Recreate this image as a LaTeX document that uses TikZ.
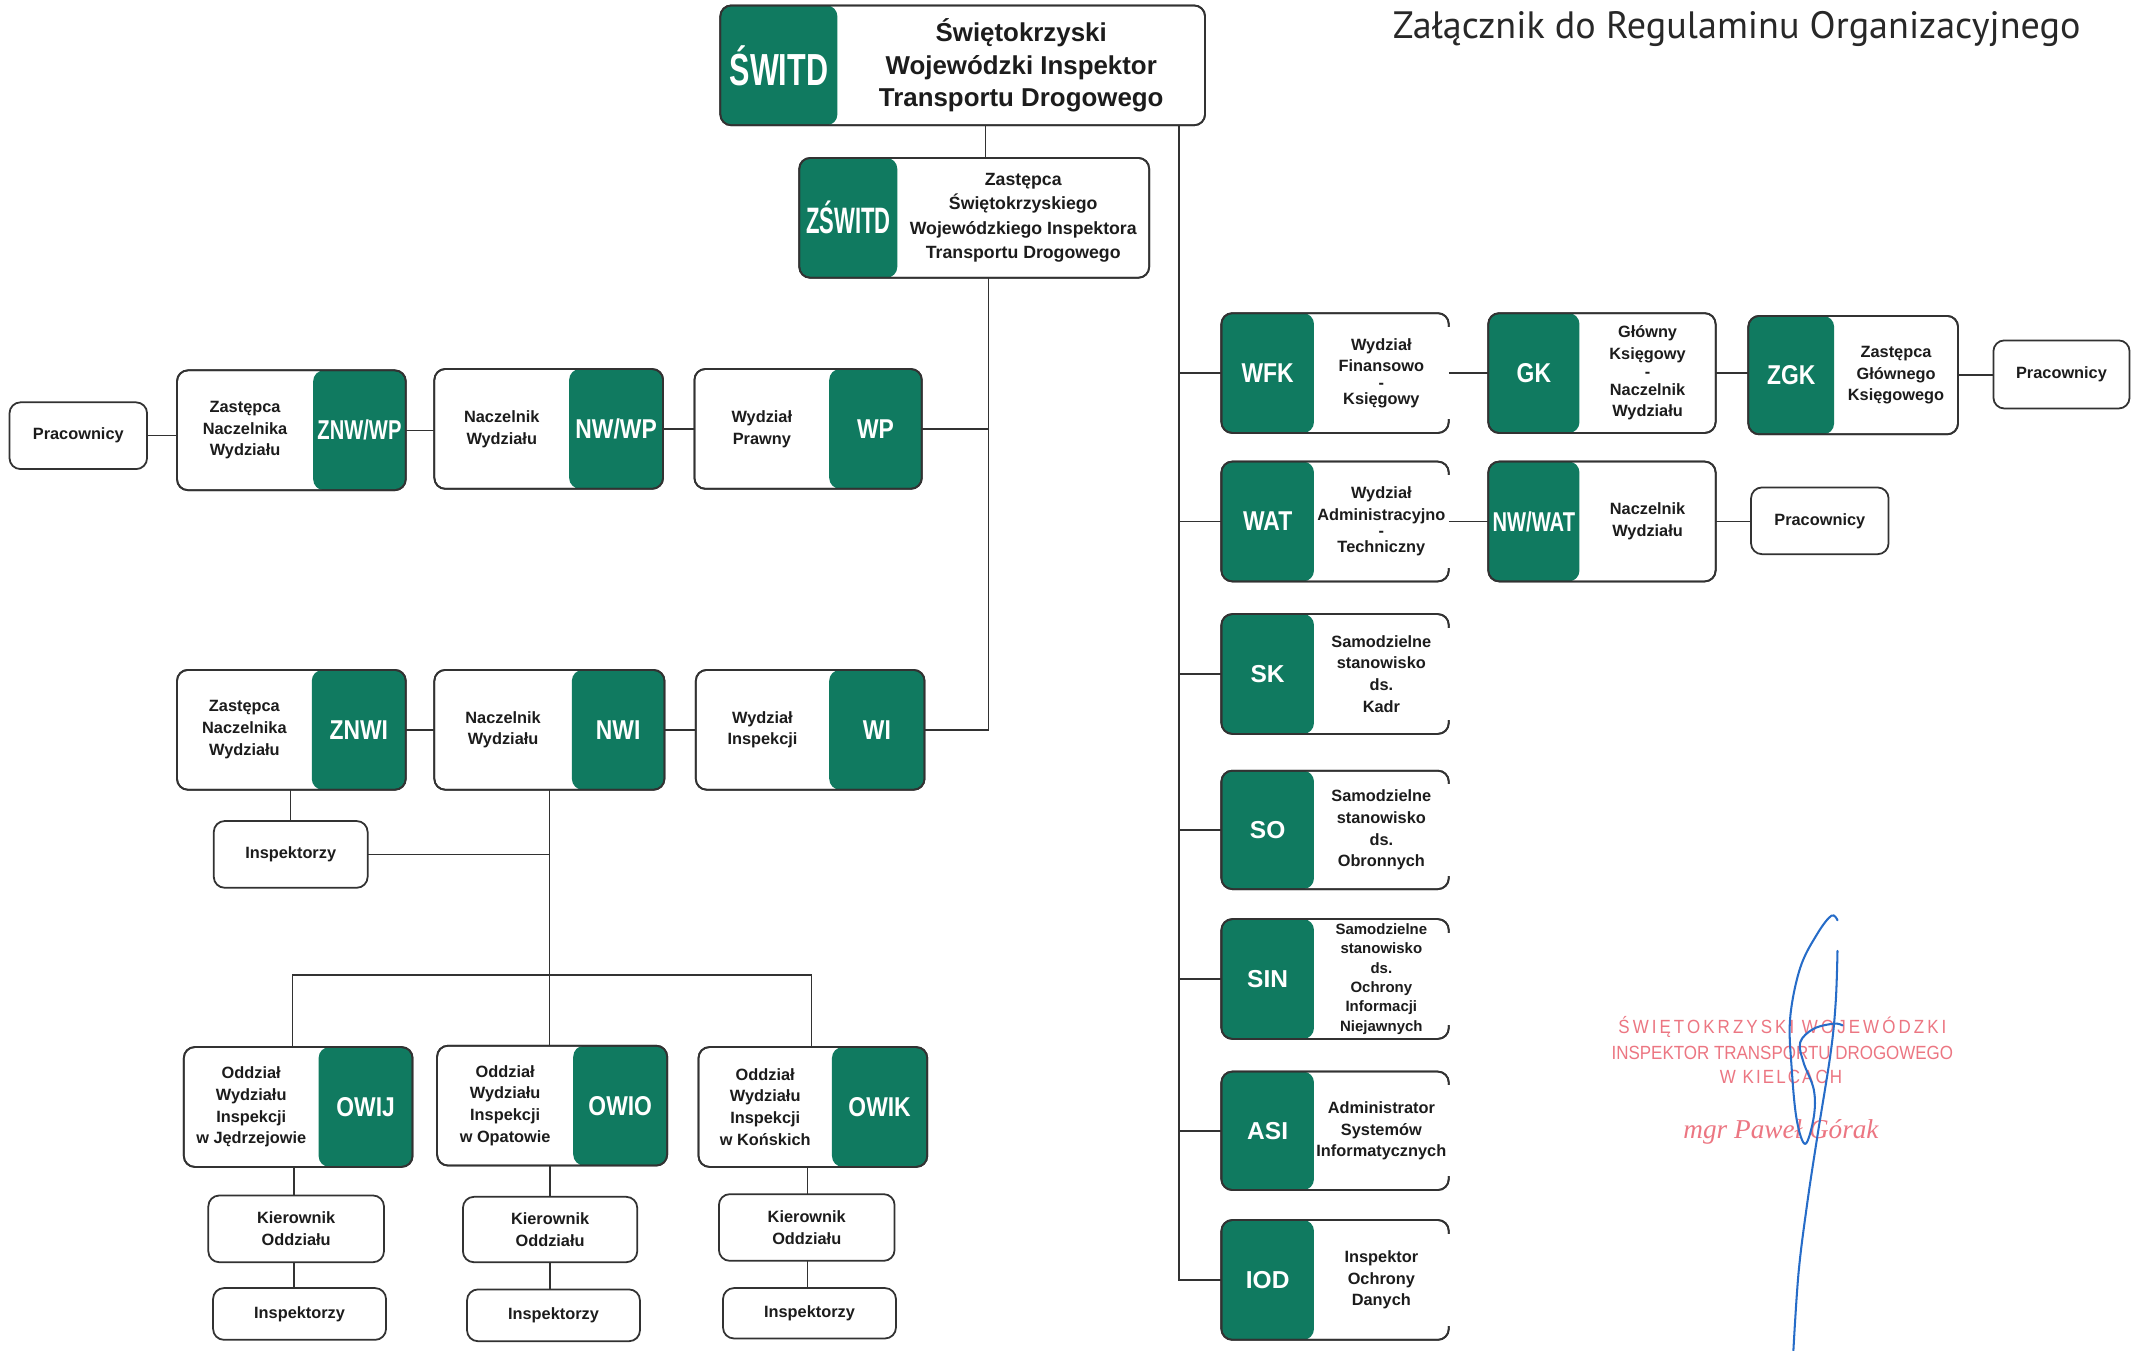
\documentclass[tikz,border=0pt]{standalone}
\usepackage{fontspec}
\setmainfont{Liberation Sans}
\newfontfamily\condf[FakeStretch=0.84]{Liberation Sans}
\newfontfamily\condn[FakeStretch=0.74]{Liberation Sans}
\newfontfamily\condx[FakeStretch=0.68]{Liberation Sans}
\newfontfamily\condz[FakeStretch=0.6]{Liberation Sans}
\newfontfamily\titlef{PT Sans}
\newfontfamily\stampf[FakeStretch=0.89]{Liberation Sans}
\newfontfamily\stampserif{Liberation Serif}
\usetikzlibrary{calc}
\definecolor{gr}{RGB}{16,122,96}
\definecolor{ink}{RGB}{28,28,28}
\definecolor{edgec}{RGB}{50,50,50}
\definecolor{titlec}{RGB}{40,40,40}
\definecolor{stampc}{RGB}{236,118,130}
\definecolor{sigc}{RGB}{38,108,200}
\newcommand\txtfont{\fontsize{12}{16}\selectfont\bfseries}
\newcommand\deftxt{\renewcommand\txtfont{\fontsize{12}{16}\selectfont\bfseries}}
\tikzset{
  every node/.style={inner sep=0pt, outer sep=0pt},
  boxs/.style={draw=edgec, line width=1.3pt, rounded corners=8pt, fill=white},
  pbox/.style={boxs, text=ink, align=center, font=\txtfont},
  conn/.style={draw=edgec, line width=1pt},
  txt/.style={text=ink, align=center, font=\txtfont},
  lbl/.style={text=white, align=center, font=\condf\bfseries\fontsize{20}{20}\selectfont},
  lbln/.style={text=white, align=center, font=\condn\bfseries\fontsize{20}{20}\selectfont},
  lbls/.style={text=white, align=center, font=\bfseries\fontsize{18}{18}\selectfont},
  lblx/.style={text=white, align=center, font=\condx\bfseries\fontsize{33}{33}\selectfont},
  lblz/.style={text=white, align=center, font=\condz\bfseries\fontsize{27}{27}\selectfont},
  stampt/.style={text=stampc, font=\stampf\fontsize{14}{14}\selectfont},
}
% green part on the left
\newcommand\gboxL[9]{%
  \pgfmathsetmacro\bw{#4-#2}\pgfmathsetmacro\bh{#5-#3}\pgfmathsetmacro\gw{#6-#2}%
  \node[boxs, minimum width=\bw pt, minimum height=\bh pt,
    path picture={\fill[gr] (path picture bounding box.north west) rectangle ([xshift=\gw pt]path picture bounding box.south west);}]
    (#1) at ({(#2+#4)/2},{(#3+#5)/2}) {};
  \draw[edgec, line width=1.3pt, rounded corners=8pt] (#1.north west) rectangle (#1.south east);
  \node[#7] (#1-l) at ({(#2+#6)/2},{(#3+#5)/2}) {#8};
  \node[txt] (#1-t) at ({(#6+#4)/2},{(#3+#5)/2}) {#9};
}
% green part on the right
\newcommand\gboxR[9]{%
  \pgfmathsetmacro\bw{#4-#2}\pgfmathsetmacro\bh{#5-#3}\pgfmathsetmacro\gw{#4-#6}%
  \node[boxs, minimum width=\bw pt, minimum height=\bh pt,
    path picture={\fill[gr] ([xshift=-\gw pt]path picture bounding box.north east) rectangle (path picture bounding box.south east);}]
    (#1) at ({(#2+#4)/2},{(#3+#5)/2}) {};
  \draw[edgec, line width=1.3pt, rounded corners=8pt] (#1.north west) rectangle (#1.south east);
  \node[#7] (#1-l) at ({(#6+#4)/2},{(#3+#5)/2}) {#8};
  \node[txt] (#1-t) at ({(#2+#6)/2},{(#3+#5)/2}) {#9};
}
\newcommand\openright[1]{%
  \draw[white, line width=3pt] ([yshift=-10pt]#1.north east) -- ([yshift=10pt]#1.south east);}
\begin{document}
\begin{tikzpicture}[x=1pt, y=-1pt]
\useasboundingbox[fill=white] (0,0) rectangle (1568,992);

% title
\node[anchor=base west, text=titlec, font=\titlef\fontsize{28}{28}\selectfont] (title) at (1023,28) {Załącznik do Regulaminu Organizacyjnego};

% top
\renewcommand\txtfont{\fontsize{19}{24}\selectfont\bfseries}
\gboxL{switd}{529}{4}{885}{92}{615}{lblx}{ŚWITD}{Świętokrzyski\\Wojewódzki Inspektor\\Transportu Drogowego}
\renewcommand\txtfont{\fontsize{13}{18}\selectfont\bfseries}
\gboxL{zswitd}{587}{116}{844}{204}{659}{lblz}{ZŚWITD}{Zastępca\\Świętokrzyskiego\\Wojewódzkiego Inspektora\\Transportu Drogowego}
\deftxt

% left, row 1
\node[pbox, minimum width=101pt, minimum height=49pt] (prac1) at (57.5,320) {Pracownicy};
\gboxR{znwwp}{130}{272}{298}{360}{230}{lbln}{ZNW/WP}{Zastępca\\Naczelnika\\Wydziału}
\gboxR{nwwp}{319}{271}{487}{359}{418}{lbl}{NW/WP}{Naczelnik\\Wydziału}
\gboxR{wp}{510}{271}{677}{359}{609}{lbl}{WP}{Wydział\\Prawny}

% left, row 2
\gboxR{znwi}{130}{492}{298}{580}{229}{lbl}{ZNWI}{Zastępca\\Naczelnika\\Wydziału}
\gboxR{nwi}{319}{492}{488}{580}{420}{lbl}{NWI}{Naczelnik\\Wydziału}
\gboxR{wi}{511}{492}{679}{580}{609}{lbl}{WI}{Wydział\\Inspekcji}
\node[pbox, minimum width=113pt, minimum height=49pt] (insp0) at (213.5,627.5) {Inspektorzy};

% branches
\gboxR{owij}{135}{769}{303}{857}{234}{lbl}{OWIJ}{Oddział\\Wydziału\\Inspekcji\\w Jędrzejowie}
\gboxR{owio}{321}{768}{490}{856}{421}{lbl}{OWIO}{Oddział\\Wydziału\\Inspekcji\\w Opatowie}
\gboxR{owik}{513}{769}{681}{857}{611}{lbl}{OWIK}{Oddział\\Wydziału\\Inspekcji\\w Końskich}
\node[pbox, minimum width=129pt, minimum height=49pt] (kier1) at (217.5,902.5) {Kierownik\\Oddziału};
\node[pbox, minimum width=128pt, minimum height=48pt] (kier2) at (404,903) {Kierownik\\Oddziału};
\node[pbox, minimum width=129pt, minimum height=49pt] (kier3) at (592.5,901.5) {Kierownik\\Oddziału};
\node[pbox, minimum width=127pt, minimum height=38pt] (insp1) at (220,965) {Inspektorzy};
\node[pbox, minimum width=127pt, minimum height=38pt] (insp2) at (406.5,966) {Inspektorzy};
\node[pbox, minimum width=127pt, minimum height=37pt] (insp3) at (594.5,964.5) {Inspektorzy};

% right column
\gboxL{wfk}{897}{230}{1064}{318}{965}{lbl}{WFK}{Wydział\\Finansowo\\[-4pt]-\\[-4pt]Księgowy}
\gboxL{gk}{1093}{230}{1260}{318}{1160}{lbl}{GK}{Główny\\Księgowy\\[-3pt]-\\[-3pt]Naczelnik\\Wydziału}
\gboxL{zgk}{1284}{232}{1438}{319}{1347}{lbl}{ZGK}{Zastępca\\Głównego\\Księgowego}
\node[pbox, minimum width=100pt, minimum height=50pt] (prac2) at (1514,275) {Pracownicy};
\gboxL{wat}{897}{339}{1064}{427}{965}{lbl}{WAT}{Wydział\\Administracyjno\\[-4pt]-\\[-4pt]Techniczny}
\gboxL{nwwat}{1093}{339}{1260}{427}{1160}{lbln}{NW/WAT}{Naczelnik\\Wydziału}
\node[pbox, minimum width=101pt, minimum height=49pt] (prac3) at (1336.5,382.5) {Pracownicy};
\gboxL{sk}{897}{451}{1064}{539}{965}{lbls}{SK}{Samodzielne\\stanowisko\\ds.\\Kadr}
\gboxL{so}{897}{566}{1064}{653}{965}{lbls}{SO}{Samodzielne\\stanowisko\\ds.\\Obronnych}
\renewcommand\txtfont{\fontsize{11}{14.2}\selectfont\bfseries}
\gboxL{sin}{897}{675}{1064}{763}{965}{lbls}{SIN}{Samodzielne\\stanowisko\\ds.\\Ochrony\\Informacji\\Niejawnych}
\deftxt
\gboxL{asi}{897}{787}{1064}{874}{965}{lbls}{ASI}{Administrator\\Systemów\\Informatycznych}
\gboxL{iod}{897}{896}{1064}{984}{965}{lbls}{IOD}{Inspektor\\Ochrony\\Danych}
\foreach \n in {wfk,wat,sk,so,sin,asi,iod} {\openright{\n}}

% connectors
\coordinate (j1) at (724,0);
\coordinate (lsp) at (726,0);
\coordinate (spx) at (866,0);
\coordinate (b1) at (215,716);
\coordinate (b3) at (596,716);
\coordinate (c1) at (216,0);
\coordinate (c2) at (404,0);
\coordinate (c3) at (593,0);

\draw[conn] (switd.south -| j1) -- (zswitd.north -| j1);
\draw[conn] (zswitd.south -| lsp) -- (lsp |- wi.east) -- (wi.east);
\draw[conn] (lsp |- wp.east) -- (wp.east);
\draw[conn] (prac1.east) -- (prac1.east -| znwwp.west);
\draw[conn] (znwwp.east) -- (znwwp.east -| nwwp.west);
\draw[conn] (nwwp.east) -- (wp.west);
\draw[conn] (znwi.east) -- (nwi.west);
\draw[conn] (nwi.east) -- (wi.west);
\draw[conn] (insp0.north |- znwi.south) -- (insp0.north);
\draw[conn] (insp0.east) -- (insp0.east -| nwi.south);
\draw[conn] (nwi.south) -- (nwi.south |- owio.north);
\draw[conn] (b1 |- owij.north) -- (b1) -- (b3) -- (b3 |- owik.north);
\draw[conn] (c1 |- owij.south) -- (c1 |- kier1.north);
\draw[conn] (c1 |- kier1.south) -- (c1 |- insp1.north);
\draw[conn] (c2 |- owio.south) -- (c2 |- kier2.north);
\draw[conn] (c2 |- kier2.south) -- (c2 |- insp2.north);
\draw[conn] (c3 |- owik.south) -- (c3 |- kier3.north);
\draw[conn] (c3 |- kier3.south) -- (c3 |- insp3.north);

\draw[conn] (switd.south -| spx) -- (spx |- iod.west) -- (iod.west);
\foreach \n in {wfk,wat,sk,so,sin,asi} {\draw[conn] (spx |- \n.west) -- (\n.west);}
\draw[conn] (wfk.east) -- (gk.west);
\draw[conn] (gk.east) -- (gk.east -| zgk.west);
\draw[conn] (zgk.east) -- (zgk.east -| prac2.west);
\draw[conn] (wat.east) -- (nwwat.west);
\draw[conn] (nwwat.east) -- (nwwat.east -| prac3.west);

% stamp
\node[stampt, font=\stampf\addfontfeature{LetterSpace=16}\fontsize{14}{14}\selectfont] (st1) at (1309,754) {ŚWIĘTOKRZYSKI WOJEWÓDZKI};
\node[stampt] (st2) at (1309,773) {INSPEKTOR TRANSPORTU DROGOWEGO};
\node[stampt, font=\stampf\addfontfeature{LetterSpace=11}\fontsize{14}{14}\selectfont] (st3) at (1308,791) {W KIELCACH};
\node[text=stampc, font=\stampserif\itshape\fontsize{20}{20}\selectfont] (st4) at (1308,831) {mgr Paweł Górak};

% signature
\draw[sigc, line width=1.5pt, line cap=round, line join=round] plot[smooth, tension=0.6] coordinates {
 (1349.5,675.9) (1345,672.5) (1334.6,685.9) (1322.1,710.8) (1314.7,748.1) (1315.9,785.4) (1319.6,822.7) (1325.9,840.1)
 (1332.1,820.2) (1332.1,800.3) (1324.6,780.4) (1322.1,765.5) (1332.1,755.5) (1347.0,751.8) (1353.2,753.1)};
\draw[sigc, line width=1.5pt, line cap=round] plot[smooth, tension=0.6] coordinates {
 (1349.5,698.3) (1348.2,735.6) (1344.5,773.0) (1334.6,835.2) (1327.1,884.9) (1320.9,934.7) (1317.1,991.9)};
\end{tikzpicture}
\end{document}
